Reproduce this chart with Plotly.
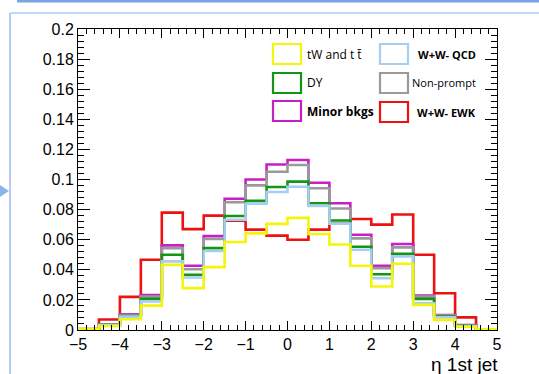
import plotly.graph_objects as go

# eta of the leading jet, 20 bins of 0.5 from -5 to 5
bin_edges = [-5 + 0.5 * i for i in range(21)]

# normalised distributions (outline levels as drawn, backgrounds stacked)
tw_ttbar = [0.0005, 0.0027, 0.0071, 0.0162, 0.0433, 0.0278, 0.0418, 0.0585, 0.0642, 0.0705,
            0.0745, 0.0638, 0.0568, 0.0427, 0.0289, 0.0440, 0.0167, 0.0067, 0.0022, 0.0004]
ww_qcd = [0.0005, 0.0033, 0.0089, 0.0190, 0.0456, 0.0349, 0.0525, 0.0733, 0.0840, 0.0917,
          0.0952, 0.0825, 0.0707, 0.0533, 0.0344, 0.0489, 0.0178, 0.0084, 0.0027, 0.0005]
dy = [0.0005, 0.0035, 0.0093, 0.0207, 0.0500, 0.0367, 0.0544, 0.0757, 0.0858, 0.0950,
      0.0986, 0.0842, 0.0728, 0.0553, 0.0370, 0.0507, 0.0207, 0.0090, 0.0030, 0.0005]
non_prompt = [0.0005, 0.0037, 0.0100, 0.0222, 0.0544, 0.0404, 0.0605, 0.0849, 0.0961, 0.1051,
              0.1096, 0.0942, 0.0807, 0.0609, 0.0411, 0.0549, 0.0222, 0.0096, 0.0030, 0.0005]
minor_bkgs = [0.0005, 0.0038, 0.0104, 0.0233, 0.0562, 0.0427, 0.0624, 0.0872, 0.1000, 0.1100,
              0.1130, 0.0978, 0.0842, 0.0633, 0.0427, 0.0571, 0.0229, 0.0100, 0.0033, 0.0005]
ww_ewk = [0.0006, 0.0070, 0.0220, 0.0467, 0.0780, 0.0670, 0.0760, 0.0727, 0.0667, 0.0627,
          0.0600, 0.0667, 0.0707, 0.0738, 0.0700, 0.0767, 0.0500, 0.0244, 0.0084, 0.0002]

y_ticks = [0, 0.02, 0.04, 0.06, 0.08, 0.1, 0.12, 0.14, 0.16, 0.18, 0.2]
y_labels = ["0", "0.02", "0.04", "0.06", "0.08", "0.1", "0.12", "0.14", "0.16", "0.18", "0.2"]
x_ticks = [-5, -4, -3, -2, -1, 0, 1, 2, 3, 4, 5]
x_labels = ["\u22125", "\u22124", "\u22123", "\u22122", "\u22121", "0", "1", "2", "3", "4", "5"]

series = [
    ("W+W- EWK", ww_ewk, "#ee1111"),
    ("Minor bkgs", minor_bkgs, "#c81ec8"),
    ("Non-prompt", non_prompt, "#9a9a9a"),
    ("DY", dy, "#139613"),
    ("W+W- QCD", ww_qcd, "#a6cdf2"),
    ("tW and t t\u0304", tw_ttbar, "#f5f50a"),
]

fig = go.Figure()
for name, vals, col in series:
    fig.add_trace(go.Scatter(
        x=bin_edges, y=vals + [vals[-1]], mode="lines", line_shape="hv",
        line=dict(color=col, width=2.6), name=name, showlegend=False,
        hoverinfo="skip"))

# page geometry (pixels)
W, H = 539, 374
L, R, T, B = 78, 497, 29, 330


def px(xp):
    return (xp - L) / (R - L)


def py(yp):
    return (B - yp) / (B - T)


axis_font = dict(family="Liberation Sans, Arial, sans-serif", size=16, color="black")

fig.update_xaxes(
    range=[-5, 5], tickvals=x_ticks, ticktext=x_labels, ticks="inside", ticklen=9,
    tickcolor="black", showline=True, linecolor="black", linewidth=1, mirror="allticks",
    showgrid=False, zeroline=False, tickfont=axis_font,
    minor=dict(dtick=0.2, tick0=0, ticks="inside", ticklen=5, tickcolor="black", showgrid=False))
fig.update_yaxes(
    range=[0, 0.2], tickvals=y_ticks, ticktext=y_labels, ticks="inside", ticklen=12,
    tickcolor="black", showline=True, linecolor="black", linewidth=1, mirror="allticks",
    showgrid=False, zeroline=False, tickfont=axis_font,
    minor=dict(dtick=0.004, tick0=0, ticks="inside", ticklen=6, tickcolor="black", showgrid=False))

shapes = []
annotations = []

# slide-style frame around the canvas
shapes.append(dict(type="line", xref="paper", yref="paper", x0=px(17), x1=px(W), y0=py(1), y1=py(1),
                   line=dict(color="#7aa4e6", width=3), layer="above"))
shapes.append(dict(type="line", xref="paper", yref="paper", x0=px(10), x1=px(W), y0=py(13), y1=py(13),
                   line=dict(color="#c4d8f6", width=2), layer="above"))
shapes.append(dict(type="line", xref="paper", yref="paper", x0=px(10), x1=px(10), y0=py(13), y1=py(H),
                   line=dict(color="#b4ccf4", width=2), layer="above"))
shapes.append(dict(type="path", xref="paper", yref="paper",
                   path=f"M {px(0)} {py(185)} L {px(9)} {py(191)} L {px(0)} {py(197)} Z",
                   fillcolor="#8db3ee", line=dict(width=0), layer="above"))

# legend: hollow boxes with labels
legend_items = [
    ("tW and t t\u0304", "#f5f50a", 273, 44, 305, False, "left", 12),
    ("DY", "#139613", 273, 73, 305, False, "left", 12),
    ("Minor bkgs", "#c81ec8", 273, 101, 305, True, "left", 12),
    ("W+W- QCD", "#a6cdf2", 380, 44, 478, True, "right", 11),
    ("Non-prompt", "#9a9a9a", 380, 73, 478, False, "right", 11),
    ("W+W- EWK", "#ee1111", 380, 102, 478, True, "right", 11),
]
for label, col, bx, by, tx, bold, anchor, fs in legend_items:
    shapes.append(dict(type="rect", xref="paper", yref="paper",
                       x0=px(bx), x1=px(bx + 28), y0=py(by), y1=py(by + 20),
                       line=dict(color=col, width=2.2), fillcolor="rgba(0,0,0,0)", layer="above"))
    txt = f"<b>{label}</b>" if bold else label
    annotations.append(dict(xref="paper", yref="paper", x=px(tx), y=py(by + 10), text=txt,
                            showarrow=False, xanchor=anchor, yanchor="middle",
                            font=dict(family="Open Sans, Liberation Sans, sans-serif", size=fs,
                                      color="black")))

# axis title, right-aligned under the x axis
annotations.append(dict(xref="paper", yref="paper", x=px(499), y=py(376), text="\u03b7 1st jet",
                        showarrow=False, xanchor="right", yanchor="bottom", borderpad=0,
                        font=dict(family="Liberation Sans, Arial, sans-serif", size=19,
                                  color="black")))

fig.update_layout(
    width=W, height=H, margin=dict(l=L, r=W - R, t=T, b=H - B, pad=0),
    paper_bgcolor="white", plot_bgcolor="white",
    shapes=shapes, annotations=annotations, showlegend=False)

fig.write_html("out.html")
